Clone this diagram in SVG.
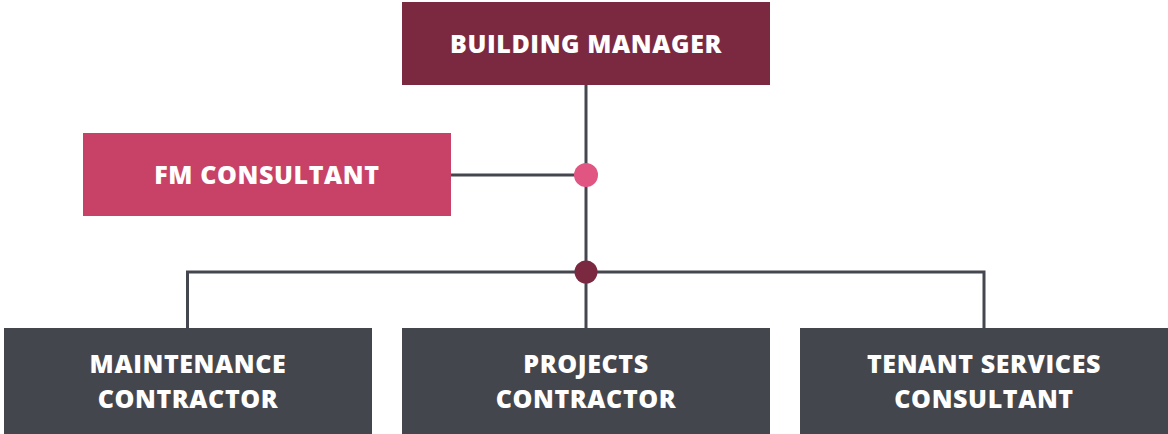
<svg xmlns="http://www.w3.org/2000/svg" width="1168" height="434" viewBox="0 0 1168 434">
<style>
.t{font-family:"Open Sans","Liberation Sans",sans-serif;font-weight:800;font-size:25px;letter-spacing:0.6px;fill:#ffffff;text-anchor:middle}
.c{stroke:#44474f;stroke-width:3;fill:none}
.dark{fill:#44464d}
</style>
<rect width="1168" height="434" fill="#ffffff"/>
<g id="connectors">
<path class="c" d="M586 85V328"/>
<path class="c" d="M451 175H586"/>
<path class="c" d="M187.5 328V272H984V328"/>
<circle cx="586" cy="175" r="12" fill="#e05582"/>
<circle cx="586" cy="272" r="11.5" fill="#7b2941"/>
</g>
<g id="building-manager">
<rect x="402" y="2" width="368" height="83" fill="#7b2941"/>
<text class="t" x="586" y="53">BUILDING MANAGER</text>
</g>
<g id="fm-consultant">
<rect x="83" y="133" width="368" height="83" fill="#c84267"/>
<text class="t" x="267" y="184">FM CONSULTANT</text>
</g>
<g id="maintenance-contractor">
<rect class="dark" x="4" y="328" width="368" height="106"/>
<text class="t" x="188" y="373">MAINTENANCE</text>
<text class="t" x="188" y="408">CONTRACTOR</text>
</g>
<g id="projects-contractor">
<rect class="dark" x="402" y="328" width="368" height="106"/>
<text class="t" x="586" y="373">PROJECTS</text>
<text class="t" x="586" y="408">CONTRACTOR</text>
</g>
<g id="tenant-services-consultant">
<rect class="dark" x="800" y="328" width="368" height="106"/>
<text class="t" x="984" y="373">TENANT SERVICES</text>
<text class="t" x="984" y="408">CONSULTANT</text>
</g>
</svg>
